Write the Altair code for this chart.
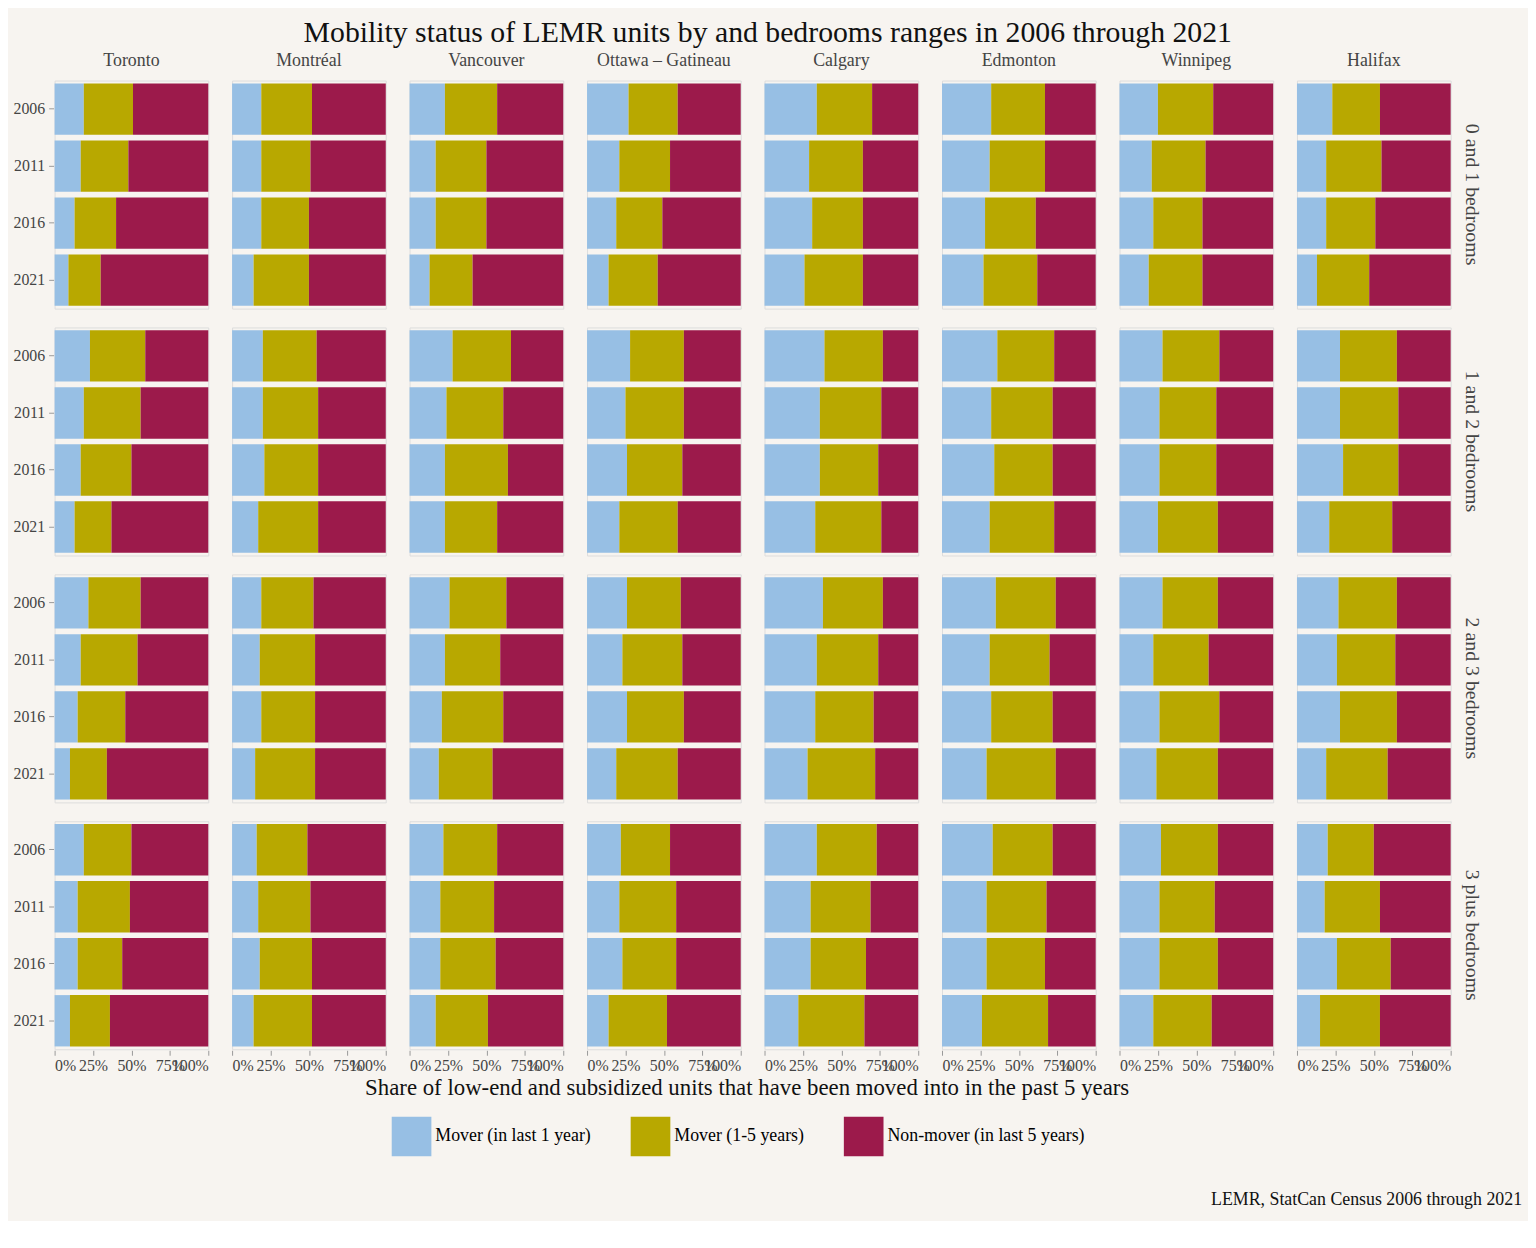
import altair as alt
import pandas as pd

cities = ["Toronto", "Montréal", "Vancouver", "Ottawa – Gatineau",
          "Calgary", "Edmonton", "Winnipeg", "Halifax"]
bedrooms = ["0 and 1 bedrooms", "1 and 2 bedrooms", "2 and 3 bedrooms", "3 plus bedrooms"]
years = ["2006", "2011", "2016", "2021"]
categories = ["Mover (in last 1 year)", "Mover (1-5 years)", "Non-mover (in last 5 years)"]
colors = ["#97BFE4", "#B8A800", "#9C1A4B"]

# share moved in last year, per city: bedroom group x year
mover_1yr = {
    "Toronto":           [.19, .17, .13, .09, .23, .19, .17, .13, .22, .17, .15, .10, .19, .15, .15, .10],
    "Montréal":          [.19, .19, .19, .14, .20, .20, .21, .17, .19, .18, .19, .15, .16, .17, .18, .14],
    "Vancouver":         [.23, .17, .17, .13, .28, .24, .23, .23, .26, .23, .21, .19, .22, .20, .20, .17],
    "Ottawa – Gatineau": [.27, .21, .19, .14, .28, .25, .26, .21, .26, .23, .26, .19, .22, .21, .23, .14],
    "Calgary":           [.34, .29, .31, .26, .39, .36, .36, .33, .38, .34, .33, .28, .34, .30, .30, .22],
    "Edmonton":          [.32, .31, .28, .27, .36, .32, .34, .31, .35, .31, .32, .29, .33, .29, .29, .26],
    "Winnipeg":          [.25, .21, .22, .19, .28, .26, .26, .25, .28, .22, .26, .24, .27, .26, .26, .22],
    "Halifax":           [.23, .19, .19, .13, .28, .28, .30, .21, .27, .26, .28, .19, .20, .18, .26, .15],
}
# cumulative share moved in last 5 years
mover_5yr_cum = {
    "Toronto":           [.51, .48, .40, .30, .59, .56, .50, .37, .56, .54, .46, .34, .50, .49, .44, .36],
    "Montréal":          [.52, .51, .50, .50, .55, .56, .56, .56, .53, .54, .54, .54, .49, .51, .52, .52],
    "Vancouver":         [.57, .50, .50, .41, .66, .61, .64, .57, .63, .59, .61, .54, .57, .55, .56, .51],
    "Ottawa – Gatineau": [.59, .54, .49, .46, .63, .63, .62, .59, .61, .62, .63, .59, .54, .58, .58, .52],
    "Calgary":           [.70, .64, .64, .64, .77, .76, .74, .76, .77, .74, .71, .72, .73, .69, .66, .65],
    "Edmonton":          [.67, .67, .61, .62, .73, .72, .72, .73, .74, .70, .72, .74, .72, .68, .67, .69],
    "Winnipeg":          [.61, .56, .54, .54, .65, .63, .63, .64, .64, .58, .65, .64, .64, .62, .64, .60],
    "Halifax":           [.54, .55, .51, .47, .65, .66, .66, .62, .65, .64, .65, .59, .50, .54, .61, .54],
}

rows = []
for c in cities:
    for i, (m1, cum) in enumerate(zip(mover_1yr[c], mover_5yr_cum[c])):
        b = bedrooms[i // 4]
        y = years[i % 4]
        for k, (cat, v) in enumerate(zip(categories, [m1, cum - m1, 1 - cum])):
            rows.append({"city": c, "bedrooms": b, "year": y, "status": cat, "order": k, "share": v})
df = pd.DataFrame(rows)

font = "Liberation Serif"

bars = alt.Chart(df).mark_bar().encode(
    x=alt.X("share:Q", stack="normalize",
            axis=alt.Axis(format=".0%", values=[0, .25, .5, .75, 1], title=None,
                          labelOverlap=False, grid=False, labelFontSize=16, labelFont=font,
                          labelColor="#444", tickColor="#999", domain=False)),
    y=alt.Y("year:O", sort=years, title=None,
            scale=alt.Scale(paddingInner=0.1, paddingOuter=0.05),
            axis=alt.Axis(labelFontSize=16, labelFont=font, labelColor="#444", tickColor="#999",
                          domain=False, labelPadding=4)),
    color=alt.Color("status:N", sort=categories,
                    scale=alt.Scale(domain=categories, range=colors),
                    legend=alt.Legend(title=None, orient="none", direction="horizontal",
                                      legendX=340, legendY=1045, symbolType="square",
                                      symbolSize=1600, symbolStrokeWidth=0, labelFont=font,
                                      labelFontSize=18, columnPadding=40, labelLimit=400)),
    order=alt.Order("order:Q"),
).properties(width=155, height=230)

facet = bars.facet(
    column=alt.Column("city:N", sort=cities, title=None,
                      header=alt.Header(labelFontSize=18, labelColor="#444", labelFont=font)),
    row=alt.Row("bedrooms:N", sort=bedrooms, title=None,
                header=alt.Header(labelFontSize=20, labelColor="#444", labelFont=font,
                                  labelAngle=90, labelOrient="right")),
    spacing={"row": 17, "column": 22},
).properties(
    title=alt.TitleParams("Share of low-end and subsidized units that have been moved into in the past 5 years",
                          orient="bottom", anchor="middle", fontSize=23, fontWeight="normal",
                          font=font, color="#111")
)

caption = alt.Chart(pd.DataFrame({"t": ["LEMR, StatCan Census 2006 through 2021"]})).mark_text(
    align="right", fontSize=18, font=font, color="#111"
).encode(text="t:N", x=alt.value(1480), y=alt.value(100)).properties(
    width=1480, height=110, view=alt.ViewBackground(stroke="transparent")
)

chart = alt.vconcat(facet, caption, spacing=0).properties(
    title=alt.TitleParams("Mobility status of LEMR units by and bedrooms ranges in 2006 through 2021",
                          anchor="middle", fontSize=30, fontWeight="normal", font=font, color="#111"),
    background="#F7F4F0",
).configure_view(
    stroke="#BBBBBB", fill="#F7F4F0"
).configure(font=font)

chart.save("out.html", embed_options={"renderer": "svg", "actions": False})
